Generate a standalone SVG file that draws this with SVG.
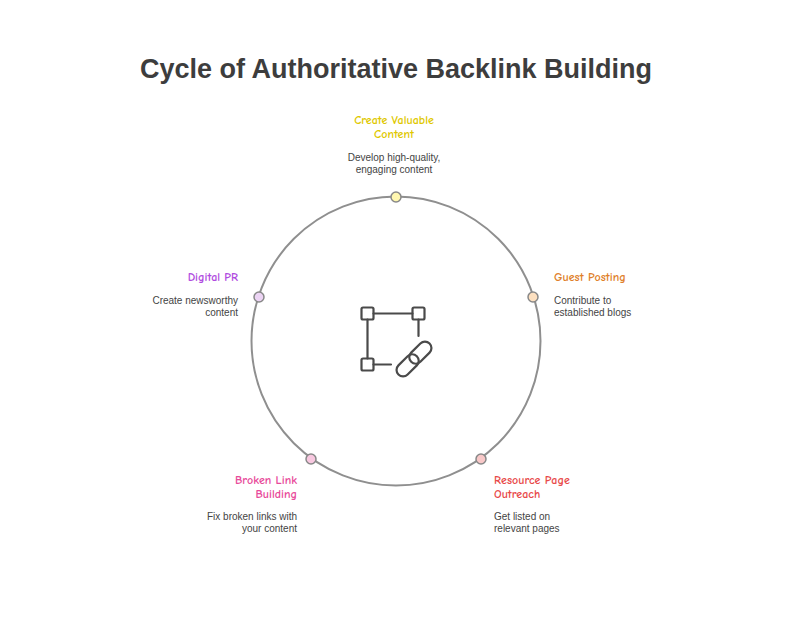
<svg xmlns="http://www.w3.org/2000/svg" width="792" height="624" viewBox="0 0 792 624">
<style>
.t{font-family:"Comic Neue","Liberation Sans",sans-serif;font-weight:bold;font-size:12px}
.d{font-family:"Liberation Sans",sans-serif;font-size:10px;fill:#444}
.dot{stroke:#888;stroke-width:1.5}
.ic{fill:none;stroke:#4a4a4a;stroke-width:2.2;stroke-linecap:round}
</style>
<rect width="792" height="624" fill="#fff"/>
<text x="396" y="78" text-anchor="middle" font-family="Liberation Sans,sans-serif" font-weight="bold" font-size="27" fill="#3d3d3d">Cycle of Authoritative Backlink Building</text>
<g id="connectors"><circle cx="396" cy="341" r="144.5" fill="none" stroke="#8f8f8f" stroke-width="2"/></g>
<g id="center">
<rect class="ic" x="361.5" y="307.5" width="12" height="12" rx="1.5"/>
<rect class="ic" x="412.5" y="307.5" width="12" height="12" rx="1.5"/>
<rect class="ic" x="361.5" y="358.5" width="12" height="12" rx="1.5"/>
<path class="ic" d="M373.5 313.5H412.5M367.5 319.5V358.5M418.5 319.5V336M373.5 364.5H391"/>
<g transform="rotate(-45 414 359)">
<rect class="ic" x="392" y="352.5" width="26" height="13" rx="6.5"/>
<rect class="ic" x="410" y="352.5" width="26" height="13" rx="6.5"/>
</g>
</g>
<g id="n1"><circle class="dot" cx="396" cy="197" r="5" fill="#fff7b0"/>
<text class="t" x="394" y="124" text-anchor="middle" fill="#e0c800">Create Valuable</text>
<text class="t" x="394" y="138" text-anchor="middle" fill="#e0c800">Content</text>
<text class="d" x="394" y="161" text-anchor="middle">Develop high-quality,</text>
<text class="d" x="394" y="173" text-anchor="middle">engaging content</text></g>
<g id="n2"><circle class="dot" cx="533" cy="297" r="5" fill="#fde0c0"/>
<text class="t" x="554" y="281" fill="#e07f2a">Guest Posting</text>
<text class="d" x="554" y="304">Contribute to</text>
<text class="d" x="554" y="316">established blogs</text></g>
<g id="n3"><circle class="dot" cx="481" cy="459" r="5" fill="#f8c8c8"/>
<text class="t" x="494" y="484" fill="#e84a4a">Resource Page</text>
<text class="t" x="494" y="498" fill="#e84a4a">Outreach</text>
<text class="d" x="494" y="520">Get listed on</text>
<text class="d" x="494" y="532">relevant pages</text></g>
<g id="n4"><circle class="dot" cx="311" cy="459" r="5" fill="#f8c8e0"/>
<text class="t" x="297" y="484" text-anchor="end" fill="#e84a9a">Broken Link</text>
<text class="t" x="297" y="498" text-anchor="end" fill="#e84a9a">Building</text>
<text class="d" x="297" y="520" text-anchor="end">Fix broken links with</text>
<text class="d" x="297" y="532" text-anchor="end">your content</text></g>
<g id="n5"><circle class="dot" cx="259" cy="297" r="5" fill="#ecd4f4"/>
<text class="t" x="238" y="281" text-anchor="end" fill="#b04ae0">Digital PR</text>
<text class="d" x="238" y="304" text-anchor="end">Create newsworthy</text>
<text class="d" x="238" y="316" text-anchor="end">content</text></g>
</svg>
